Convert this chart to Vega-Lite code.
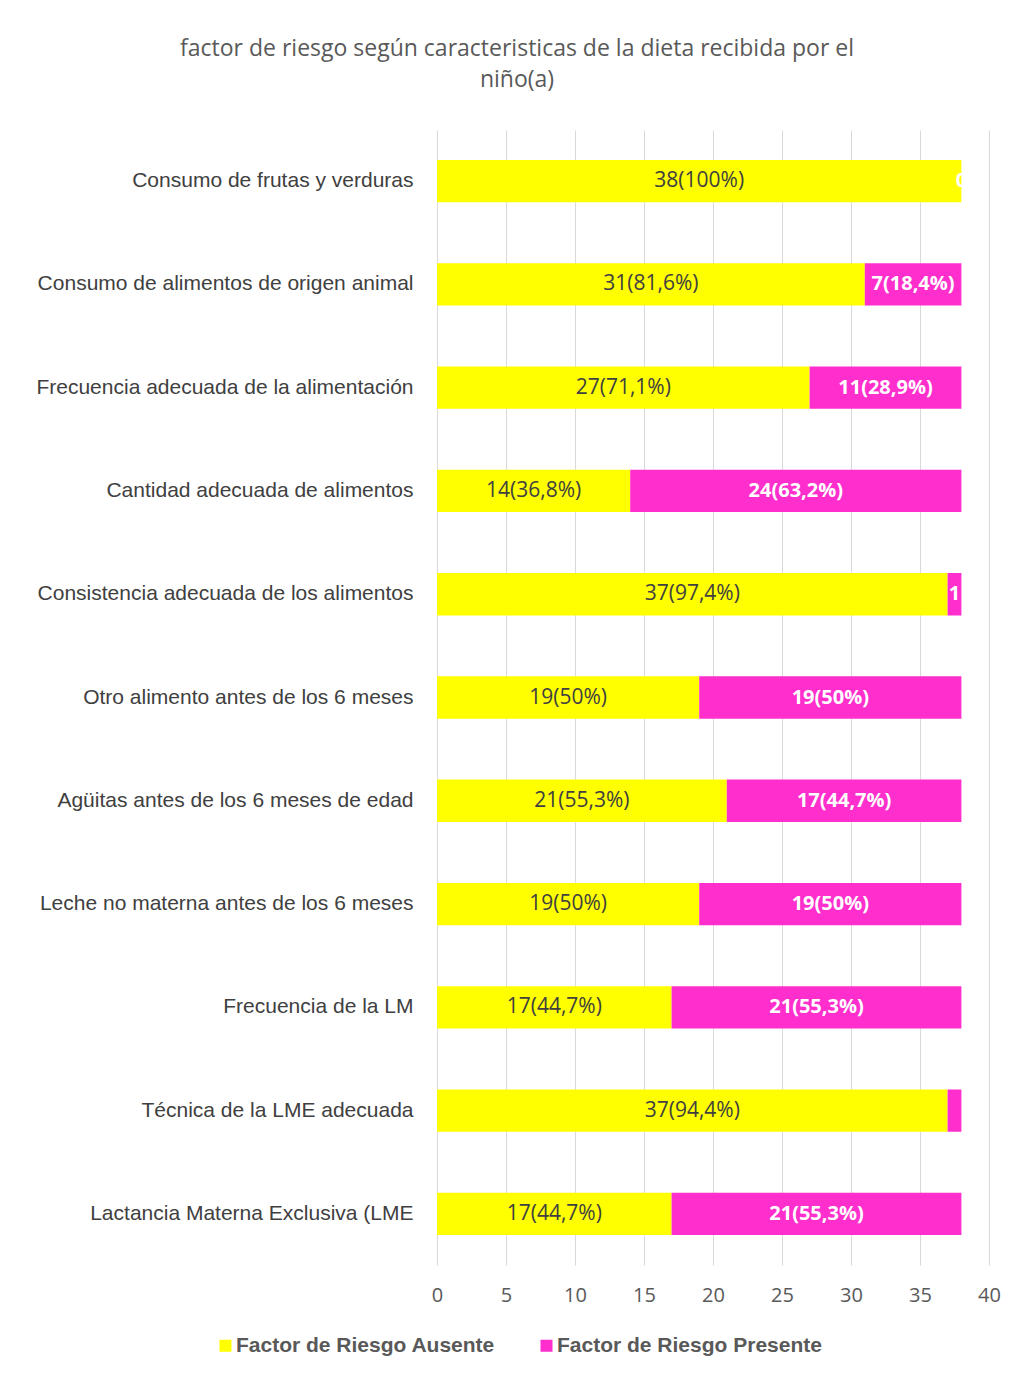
{
  "$schema": "https://vega.github.io/schema/vega-lite/v6.json",
  "width": 552,
  "height": 1135,
  "autosize": {"type": "none"},
  "padding": {"left": 437, "top": 130, "right": 34, "bottom": 110},
  "background": "white",
  "title": {
    "text": ["factor de riesgo según caracteristicas de la dieta recibida por el", "niño(a)"],
    "font": "Open Sans",
    "fontSize": 23,
    "fontWeight": "normal",
    "color": "#595959",
    "anchor": "middle",
    "dx": -196,
    "offset": 38,
    "lineHeight": 31
  },
  "data": {
    "values": [
      {"item": "Consumo de frutas y verduras", "serie": "Factor de Riesgo Ausente", "value": 38, "label": "38(100%)"},
      {"item": "Consumo de frutas y verduras", "serie": "Factor de Riesgo Presente", "value": 0, "label": "0"},
      {"item": "Consumo de alimentos de origen animal", "serie": "Factor de Riesgo Ausente", "value": 31, "label": "31(81,6%)"},
      {"item": "Consumo de alimentos de origen animal", "serie": "Factor de Riesgo Presente", "value": 7, "label": "7(18,4%)"},
      {"item": "Frecuencia adecuada de la alimentación", "serie": "Factor de Riesgo Ausente", "value": 27, "label": "27(71,1%)"},
      {"item": "Frecuencia adecuada de la alimentación", "serie": "Factor de Riesgo Presente", "value": 11, "label": "11(28,9%)"},
      {"item": "Cantidad adecuada de alimentos", "serie": "Factor de Riesgo Ausente", "value": 14, "label": "14(36,8%)"},
      {"item": "Cantidad adecuada de alimentos", "serie": "Factor de Riesgo Presente", "value": 24, "label": "24(63,2%)"},
      {"item": "Consistencia adecuada de los alimentos", "serie": "Factor de Riesgo Ausente", "value": 37, "label": "37(97,4%)"},
      {"item": "Consistencia adecuada de los alimentos", "serie": "Factor de Riesgo Presente", "value": 1, "label": "1"},
      {"item": "Otro alimento antes de los 6 meses", "serie": "Factor de Riesgo Ausente", "value": 19, "label": "19(50%)"},
      {"item": "Otro alimento antes de los 6 meses", "serie": "Factor de Riesgo Presente", "value": 19, "label": "19(50%)"},
      {"item": "Agüitas antes de los 6 meses de edad", "serie": "Factor de Riesgo Ausente", "value": 21, "label": "21(55,3%)"},
      {"item": "Agüitas antes de los 6 meses de edad", "serie": "Factor de Riesgo Presente", "value": 17, "label": "17(44,7%)"},
      {"item": "Leche no materna antes de los 6 meses", "serie": "Factor de Riesgo Ausente", "value": 19, "label": "19(50%)"},
      {"item": "Leche no materna antes de los 6 meses", "serie": "Factor de Riesgo Presente", "value": 19, "label": "19(50%)"},
      {"item": "Frecuencia de la LM", "serie": "Factor de Riesgo Ausente", "value": 17, "label": "17(44,7%)"},
      {"item": "Frecuencia de la LM", "serie": "Factor de Riesgo Presente", "value": 21, "label": "21(55,3%)"},
      {"item": "Técnica de la LME adecuada", "serie": "Factor de Riesgo Ausente", "value": 37, "label": "37(94,4%)"},
      {"item": "Técnica de la LME adecuada", "serie": "Factor de Riesgo Presente", "value": 1, "label": ""},
      {"item": "Lactancia Materna Exclusiva (LME", "serie": "Factor de Riesgo Ausente", "value": 17, "label": "17(44,7%)"},
      {"item": "Lactancia Materna Exclusiva (LME", "serie": "Factor de Riesgo Presente", "value": 21, "label": "21(55,3%)"}
    ]
  },
  "encoding": {
    "y": {
      "field": "item",
      "type": "nominal",
      "sort": null,
      "title": null,
      "scale": {"paddingInner": 0.59, "paddingOuter": 0.29}
    }
  },
  "layer": [
    {
      "mark": {"type": "bar"},
      "encoding": {
        "x": {"field": "value", "type": "quantitative", "stack": "zero", "title": null, "scale": {"domain": [0, 40], "nice": false}},
        "color": {
          "field": "serie",
          "type": "nominal",
          "scale": {"domain": ["Factor de Riesgo Ausente", "Factor de Riesgo Presente"], "range": ["#FFFF00", "#FF2ECC"]},
          "legend": {
            "orient": "none",
            "legendX": -222,
            "legendY": 1205,
            "direction": "horizontal",
            "title": null,
            "symbolType": "square",
            "symbolSize": 144,
            "symbolStrokeWidth": 0,
            "labelFont": "Liberation Sans",
            "labelFontSize": 21,
            "labelFontWeight": "bold",
            "labelColor": "#595959",
            "labelOffset": 0,
            "columnPadding": 40,
            "labelLimit": 400,
            "padding": 0
          }
        },
        "order": {"field": "serie"}
      }
    },
    {
      "mark": {"type": "text", "font": "Open Sans", "fontSize": 21, "color": "#404040", "baseline": "middle", "align": "center"},
      "encoding": {
        "x": {"field": "value", "type": "quantitative", "stack": "zero", "bandPosition": 0.5, "title": null},
        "detail": {"field": "serie"},
        "order": {"field": "serie"},
        "text": {"condition": {"test": "datum.serie === 'Factor de Riesgo Ausente'", "field": "label"}, "value": ""}
      }
    },
    {
      "mark": {"type": "text", "font": "Open Sans", "fontSize": 20, "fontWeight": "bold", "color": "#FFFFFF", "baseline": "middle", "align": "center"},
      "encoding": {
        "x": {"field": "value", "type": "quantitative", "stack": "zero", "bandPosition": 0.5, "title": null},
        "detail": {"field": "serie"},
        "order": {"field": "serie"},
        "text": {"condition": {"test": "datum.serie === 'Factor de Riesgo Presente'", "field": "label"}, "value": ""}
      }
    }
  ],
  "config": {
    "view": {"stroke": null},
    "axisX": {
      "grid": true,
      "gridColor": "#d9d9d9",
      "gridWidth": 1,
      "domain": false,
      "ticks": false,
      "tickCount": 8,
      "labelFont": "Open Sans",
      "labelFontSize": 20,
      "labelColor": "#595959",
      "labelPadding": 20,
      "labelFlush": false
    },
    "axisY": {
      "grid": false,
      "domain": false,
      "ticks": false,
      "labelFont": "Liberation Sans",
      "labelFontSize": 21,
      "labelColor": "#404040",
      "labelPadding": 24,
      "labelLimit": 420
    }
  }
}
